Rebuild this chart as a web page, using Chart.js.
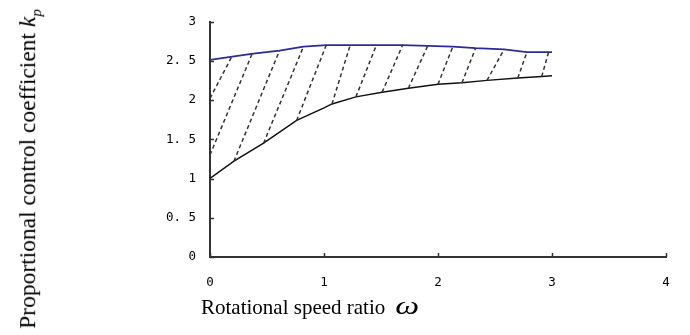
<!DOCTYPE html>
<html>
<head>
<meta charset="utf-8">
<script src="https://cdn.jsdelivr.net/npm/chart.js@4"></script>
<style>
  body { margin: 0; background: #fff; }
  #wrap { position: relative; width: 690px; height: 335px; }
  canvas { position: absolute; left: 0; top: 0; }
  .title { position: absolute; font-family: "Liberation Serif", "Times New Roman", serif; color: #000; white-space: nowrap; line-height: 1; }
  #xTitle { left: 201px; top: 293px; font-size: 21px; }
  #xTitle i { font-size: 26px; margin-left: 7px; display: inline-block; transform: scaleX(1.3); }
  #yTitle { left: 30px; top: 169px; font-size: 23.5px; transform: translate(-50%, -50%) rotate(-90deg); }
  #yTitle sub { font-size: 15px; }
</style>
</head>
<body>
<div id="wrap">
  <canvas id="chart" width="690" height="335"></canvas>
  <div class="title" id="xTitle">Rotational speed ratio <i>ω</i></div>
  <div class="title" id="yTitle">Proportional control coefficient <i>k</i><sub><i>p</i></sub></div>
</div>
<script>
// Axis ticks
const xTicks = [0, 1, 2, 3, 4];
const yTicks = [0, 0.5, 1, 1.5, 2, 2.5, 3];

// Upper boundary (blue)
const upperX = [0, 0.18, 0.38, 0.61, 0.82, 1.02, 1.46, 1.69, 1.91, 2.13, 2.33, 2.58, 2.78, 3.0];
const upperY = [2.51, 2.55, 2.59, 2.63, 2.68, 2.70, 2.70, 2.70, 2.69, 2.68, 2.66, 2.645, 2.61, 2.61];

// Lower boundary (black)
const lowerX = [0, 0.21, 0.47, 0.76, 1.0, 1.07, 1.28, 1.51, 1.74, 2.0, 2.21, 2.43, 2.70, 2.91, 3.0];
const lowerY = [1.0, 1.22, 1.45, 1.74, 1.90, 1.95, 2.04, 2.10, 2.15, 2.20, 2.22, 2.25, 2.28, 2.30, 2.31];

// Hatch lines: start (bottom) and end (top)
const hatchX0 = [0, 0, 0.21, 0.47, 0.76, 1.07, 1.28, 1.51, 1.74, 2.0, 2.21, 2.43, 2.70, 2.91];
const hatchY0 = [2.02, 1.30, 1.22, 1.45, 1.74, 1.95, 2.04, 2.10, 2.15, 2.20, 2.22, 2.25, 2.28, 2.30];
const hatchX1 = [0.19, 0.37, 0.61, 0.82, 1.02, 1.23, 1.46, 1.69, 1.91, 2.13, 2.33, 2.58, 2.78, 2.97];
const hatchY1 = [2.55, 2.59, 2.63, 2.68, 2.70, 2.70, 2.70, 2.70, 2.69, 2.68, 2.66, 2.645, 2.61, 2.61];

const axisColor = '#333';

function toPoints(xs, ys) {
  return xs.map((x, i) => ({ x: x, y: ys[i] }));
}

const datasets = [];
hatchX0.forEach((x0, i) => {
  datasets.push({
    data: [{ x: x0, y: hatchY0[i] }, { x: hatchX1[i], y: hatchY1[i] }],
    borderColor: '#333',
    borderWidth: 1.5,
    borderDash: [4, 3]
  });
});
datasets.push({ data: toPoints(lowerX, lowerY), borderColor: '#111', borderWidth: 1.5 });
datasets.push({ data: toPoints(upperX, upperY), borderColor: '#2b2b9c', borderWidth: 1.8 });

// inward tick marks
const innerTicks = {
  id: 'innerTicks',
  afterDraw(chart) {
    const { ctx, chartArea, scales } = chart;
    ctx.save();
    ctx.strokeStyle = axisColor;
    ctx.lineWidth = 1.5;
    ctx.beginPath();
    xTicks.forEach(v => {
      const px = Math.round(scales.x.getPixelForValue(v)) + 0.5;
      ctx.moveTo(px, chartArea.bottom);
      ctx.lineTo(px, chartArea.bottom - 4);
    });
    yTicks.forEach(v => {
      const py = Math.round(scales.y.getPixelForValue(v)) + 0.5;
      ctx.moveTo(chartArea.left, py);
      ctx.lineTo(chartArea.left + 4, py);
    });
    ctx.stroke();
    ctx.restore();
  }
};

const tickFont = { family: '"DejaVu Sans Mono", monospace', size: 12.5 };

new Chart(document.getElementById('chart'), {
  type: 'line',
  data: { datasets: datasets },
  options: {
    responsive: false,
    animation: false,
    layout: { padding: { left: 0, right: 24, top: 19, bottom: 0 } },
    elements: { point: { radius: 0 }, line: { tension: 0 } },
    plugins: { legend: { display: false }, tooltip: { enabled: false } },
    scales: {
      x: {
        type: 'linear',
        min: 0, max: 4,
        afterBuildTicks: s => { s.ticks = xTicks.map(v => ({ value: v })); },
        ticks: { color: '#000', font: tickFont, padding: 18, maxRotation: 0 },
        grid: { display: false, drawTicks: false },
        border: { color: axisColor, width: 2 },
        afterFit: s => { s.height = 78; }
      },
      y: {
        type: 'linear',
        min: 0, max: 3,
        afterBuildTicks: s => { s.ticks = yTicks.map(v => ({ value: v })); },
        ticks: { color: '#000', font: tickFont, padding: 14, callback: v => String(v).replace('.', '. ') },
        grid: { display: false, drawTicks: false },
        border: { color: axisColor, width: 2 },
        afterFit: s => { s.width = 210; }
      }
    }
  },
  plugins: [innerTicks]
});
</script>
</body>
</html>
